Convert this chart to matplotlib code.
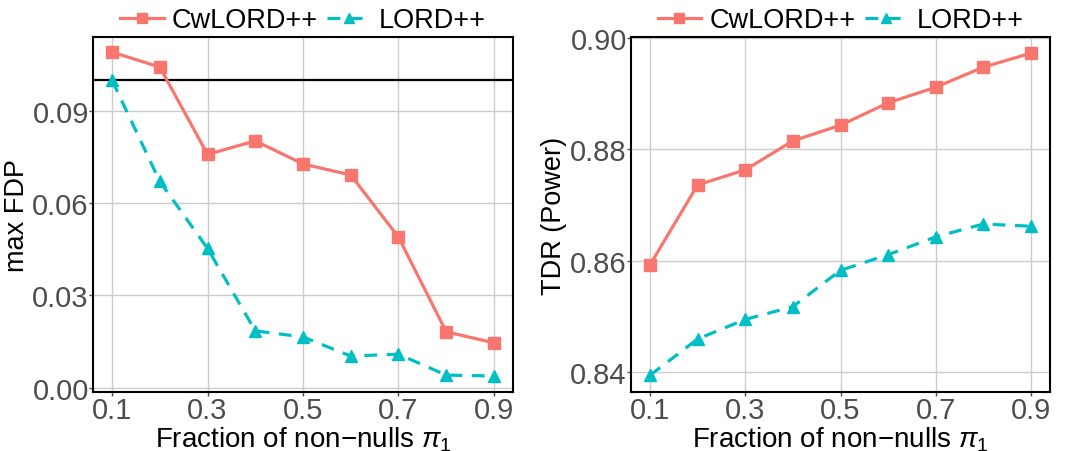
import numpy as np
import matplotlib
matplotlib.use("Agg")
import matplotlib.pyplot as plt

plt.rcParams['font.family'] = ['Liberation Sans', 'DejaVu Sans']
plt.rcParams['mathtext.fontset'] = 'custom'
plt.rcParams['mathtext.rm'] = 'Liberation Sans'
plt.rcParams['mathtext.it'] = 'Liberation Sans:italic'

# DADOS
pi1 = [0.1, 0.2, 0.3, 0.4, 0.5, 0.6, 0.7, 0.8, 0.9]

fdp_cwlord = [0.1092, 0.1043, 0.0759, 0.0803, 0.0728, 0.0692, 0.0490, 0.0182, 0.0146]
fdp_lord = [0.1000, 0.0671, 0.0453, 0.0185, 0.0165, 0.0103, 0.0109, 0.0041, 0.0038]
alvo_fdr = 0.1

tdr_cwlord = [0.8593, 0.8736, 0.8763, 0.8815, 0.8843, 0.8883, 0.8911, 0.8947, 0.8972]
tdr_lord = [0.8395, 0.8460, 0.8495, 0.8518, 0.8583, 0.8611, 0.8643, 0.8666, 0.8662]

x_ticks = [0.1, 0.3, 0.5, 0.7, 0.9]
fdp_ticks = [0.00, 0.03, 0.06, 0.09]
tdr_ticks = [0.84, 0.86, 0.88, 0.90]

VERMELHO = '#F8766D'
CIANO = '#00BFC4'

fig = plt.figure(figsize=(10.71, 4.52), dpi=100)
ax1 = fig.add_axes([93 / 1071, 59 / 452, 420 / 1071, 355 / 452])
ax2 = fig.add_axes([631 / 1071, 59 / 452, 419 / 1071, 355 / 452])


def painel(ax, y_cw, y_lord, yticks, ylabel, fmt, x_rotulo):
    ax.plot(pi1, y_cw, color=VERMELHO, linewidth=2.3, marker='s', markersize=9,
            label='CwLORD++', zorder=3)
    ax.plot(pi1, y_lord, color=CIANO, linewidth=2.3, marker='^', markersize=9,
            linestyle=(0, (4, 3)), label='LORD++', zorder=3)
    ax.set_xlim(0.06, 0.94)
    ax.set_xticks(x_ticks)
    ax.set_xticklabels([f'{v:.1f}' for v in x_ticks])
    ax.set_yticks(yticks)
    ax.set_yticklabels([fmt.format(v) for v in yticks])
    ax.grid(True, color='#CCCCCC', linewidth=1.0)
    ax.set_axisbelow(True)
    for s in ax.spines.values():
        s.set_color('black')
        s.set_linewidth(1.5)
    ax.tick_params(colors='#4D4D4D', labelsize=21, length=3, width=1, pad=0)
    ax.set_xlabel('Fraction of non\u2212nulls $\\pi_1$', fontsize=20, labelpad=0)
    ax.set_ylabel(ylabel, fontsize=19.5)
    ax.yaxis.set_label_coords(x_rotulo, 0.5)
    ax.legend(loc='lower center', bbox_to_anchor=(0.5, 1.01), ncol=2, frameon=False,
              fontsize=19.5, handlelength=1.6, columnspacing=0.35, handletextpad=0.3,
              borderaxespad=0.0, borderpad=0.0, markerscale=0.85)


painel(ax1, fdp_cwlord, fdp_lord, fdp_ticks, 'max FDP', '{:.2f}', -0.150)
ax1.axhline(alvo_fdr, color='black', linewidth=1.6, zorder=2)
ax1.set_ylim(-0.0014, 0.1141)

painel(ax2, tdr_cwlord, tdr_lord, tdr_ticks, 'TDR (Power)', '{:.2f}', -0.153)
ax2.set_ylim(0.8365, 0.9001)

fig.savefig('out.png', dpi=100)
